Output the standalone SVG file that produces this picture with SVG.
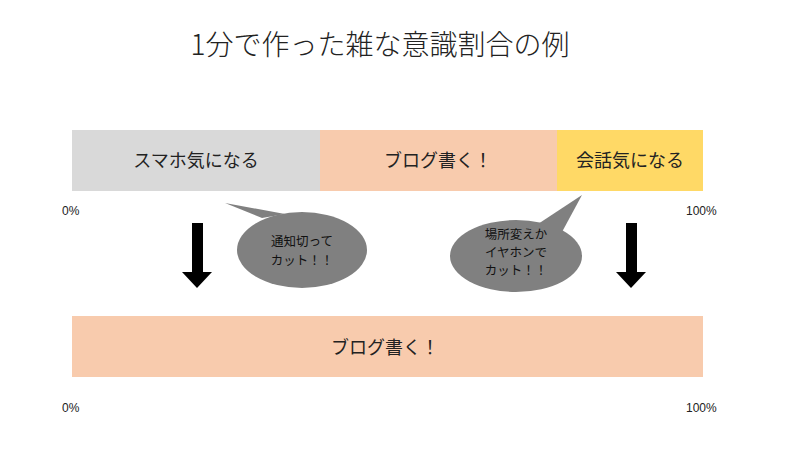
<svg xmlns="http://www.w3.org/2000/svg" width="800" height="450" viewBox="0 0 800 450">
<style>
text{font-family:"Noto Sans CJK JP","Noto Sans",sans-serif;fill:#222}
.lbl{font-size:18px;text-anchor:middle}
.pct{font-size:12px;font-family:"Liberation Sans",sans-serif}
.bub{fill:#808080}
.bt{font-size:12.5px;text-anchor:middle;fill:#111}
</style>
<rect width="800" height="450" fill="#fff"/>
<text x="380" y="55" font-size="28" font-weight="300" text-anchor="middle" fill="#404040">1分で作った雑な意識割合の例</text>
<g id="bar1">
<rect x="72" y="130" width="248" height="61" fill="#d9d9d9"/>
<text class="lbl" x="196" y="167">スマホ気になる</text>
<rect x="320" y="130" width="237" height="61" fill="#f8cbad"/>
<text class="lbl" x="438" y="167">ブログ書く！</text>
<rect x="557" y="130" width="146" height="61" fill="#ffd966"/>
<text class="lbl" x="630" y="167">会話気になる</text>
</g>
<text class="pct" x="62" y="215">0%</text>
<text class="pct" x="686" y="215">100%</text>
<g id="bar2">
<rect x="72" y="316" width="631" height="61" fill="#f8cbad"/>
<text class="lbl" x="385" y="354" font-size="21">ブログ書く！</text>
</g>
<text class="pct" x="62" y="412">0%</text>
<text class="pct" x="686" y="412">100%</text>
<g id="connectors">
<polygon points="192,223 203,223 203,272 212,272 197,288 182,272 192,272" fill="#000"/>
<polygon points="626,223 637,223 637,272 646,272 631,288 616,272 626,272" fill="#000"/>
</g>
<g id="bubble1">
<polygon class="bub" points="225,203 262,218 285,214" />
<ellipse class="bub" cx="302" cy="250" rx="65" ry="38"/>
<text class="bt" x="302" y="246">通知切って</text>
<text class="bt" x="302" y="265">カット！！</text>
</g>
<g id="bubble2">
<polygon class="bub" points="582,195 538,224 562,232"/>
<ellipse class="bub" cx="516" cy="256" rx="66" ry="36"/>
<text class="bt" x="516" y="239">場所変えか</text>
<text class="bt" x="516" y="257">イヤホンで</text>
<text class="bt" x="516" y="275">カット！！</text>
</g>
</svg>
